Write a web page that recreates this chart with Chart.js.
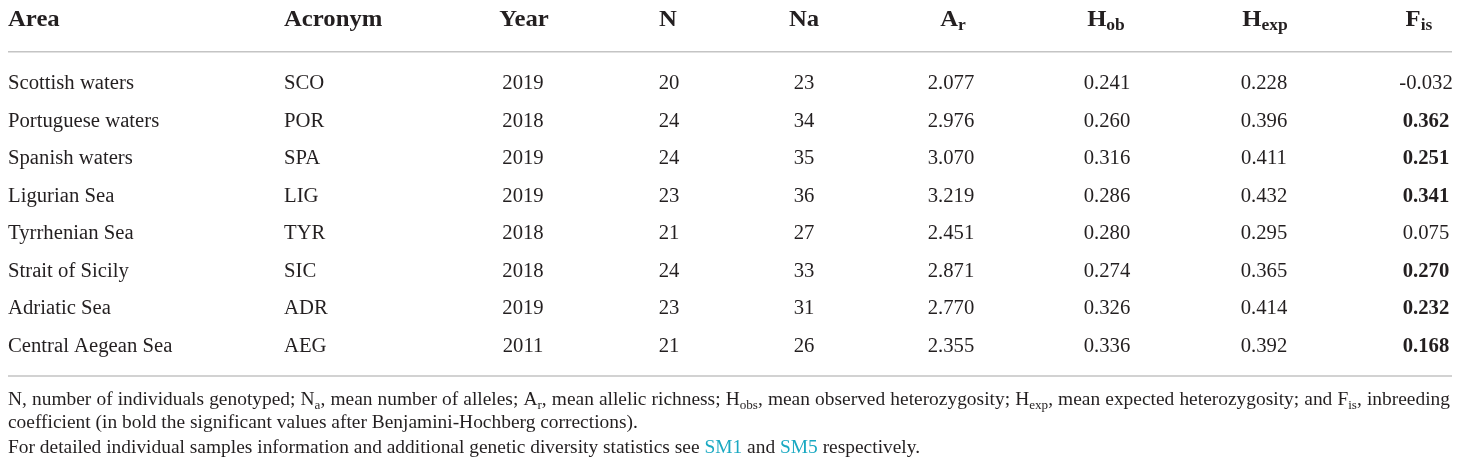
<!DOCTYPE html>
<html><head><meta charset="utf-8">
<script src="https://cdn.jsdelivr.net/npm/chart.js@4.4.1/dist/chart.umd.min.js"></script>
<style>html,body{margin:0;padding:0;background:#fff;}canvas{display:block;}</style>
</head><body>
<canvas id="c" width="1460" height="467"></canvas>
<script>
// ---- data ----
const areas = ["Scottish waters","Portuguese waters","Spanish waters","Ligurian Sea","Tyrrhenian Sea","Strait of Sicily","Adriatic Sea","Central Aegean Sea"];
const acronyms = ["SCO","POR","SPA","LIG","TYR","SIC","ADR","AEG"];
const years = [2019,2018,2019,2019,2018,2018,2019,2011];
const nInd = [20,24,24,23,21,24,23,21];
const nAlleles = [23,34,35,36,27,33,31,26];
const allelicRichness = [2.077,2.976,3.070,3.219,2.451,2.871,2.770,2.355];
const hObs = [0.241,0.260,0.316,0.286,0.280,0.274,0.326,0.336];
const hExp = [0.228,0.396,0.411,0.432,0.295,0.365,0.414,0.392];
const fis = [-0.032,0.362,0.251,0.341,0.075,0.270,0.232,0.168];
const fisSignificant = [false,true,true,true,false,true,true,true];
const headers = ["Area","Acronym","Year","N","Na","A_{r}","H_{ob}","H_{exp}","F_{is}"];
const footnotes = [
  "N, number of individuals genotyped; N_{a}, mean number of alleles; A_{r}, mean allelic richness; H_{obs}, mean observed heterozygosity; H_{exp}, mean expected heterozygosity; and F_{is}, inbreeding",
  "coefficient (in bold the significant values after Benjamini-Hochberg corrections).",
  "For detailed individual samples information and additional genetic diversity statistics see [SM1] and [SM5] respectively."
];

// ---- layout / style ----
const FONT = '"Liberation Serif", "Times New Roman", serif';
const TEXT = '#231f20';
const LINK = '#1aa9c2';
const RULE = '#c4c4c4';
const columns = [
  {hx: 8,    x: 8,    align: 'left'},
  {hx: 284,  x: 284,  align: 'left'},
  {hx: 524,  x: 523,  align: 'center'},
  {hx: 668,  x: 669,  align: 'center'},
  {hx: 804,  x: 804,  align: 'center'},
  {hx: 953,  x: 951,  align: 'center'},
  {hx: 1106, x: 1107, align: 'center'},
  {hx: 1265, x: 1264, align: 'center'},
  {hx: 1419, x: 1426, align: 'center'}
];

function cellTexts(i) {
  return [areas[i], acronyms[i], String(years[i]), String(nInd[i]), String(nAlleles[i]),
    allelicRichness[i].toFixed(3), hObs[i].toFixed(3), hExp[i].toFixed(3), fis[i].toFixed(3)];
}

// parse "A_{r}" and "[SM1]" into segments
function parse(str) {
  const segs = [];
  const re = /_\{([^}]*)\}|\[([^\]]*)\]|([^_\[]+)/g;
  let m;
  while ((m = re.exec(str))) {
    if (m[1] !== undefined) segs.push({t: m[1], sub: true});
    else if (m[2] !== undefined) segs.push({t: m[2], color: LINK});
    else segs.push({t: m[3]});
  }
  return segs;
}

function fontOf(s, st) {
  return `${st.bold ? 'bold ' : ''}${s.sub ? st.sub : st.size}px ${FONT}`;
}
function measure(ctx, segs, st) {
  let w = 0;
  const k = st.stretch || 1;
  segs.forEach(s => { ctx.font = fontOf(s, st); s.w = ctx.measureText(s.t).width * k; w += s.w; });
  return w;
}
function drawSegs(ctx, segs, x, y, st) {
  let cx = x;
  const k = st.stretch || 1;
  segs.forEach(s => {
    ctx.font = fontOf(s, st);
    ctx.fillStyle = s.color || TEXT;
    ctx.save();
    ctx.translate(cx, y + (s.sub ? st.shift : 0));
    ctx.scale(k, 1);
    ctx.fillText(s.t, 0, 0);
    ctx.restore();
    cx += s.w;
  });
}
function drawRich(ctx, str, x, y, align, st) {
  const segs = parse(str);
  const w = measure(ctx, segs, st);
  const sx = align === 'center' ? x - w / 2 : align === 'right' ? x - w : x;
  drawSegs(ctx, segs, sx, y, st);
}
function drawJustified(ctx, str, x0, x1, y, st) {
  const words = str.split(' ').map(wd => parse(wd));
  const widths = words.map(wd => measure(ctx, wd, st));
  const total = widths.reduce((a, b) => a + b, 0);
  const gap = (x1 - x0 - total) / (words.length - 1);
  let cx = x0;
  words.forEach((wd, k) => { drawSegs(ctx, wd, cx, y, st); cx += widths[k] + gap; });
}

const tablePlugin = {
  id: 'table',
  afterDraw(chart) {
    const ctx = chart.ctx;
    const ys = chart.scales.y;
    const area = chart.chartArea;
    ctx.save();
    ctx.textBaseline = 'alphabetic';
    ctx.textAlign = 'left';
    const head = {size: 24, sub: 17, shift: 4, bold: true, stretch: 1.03};
    const body = {size: 20.5, sub: 14, shift: 4, bold: false, stretch: 1.01};
    const note = {size: 18.5, sub: 12.5, shift: 4, bold: false, stretch: 1.05};
    // header
    const hy = area.top - 38.25;
    headers.forEach((h, c) => drawRich(ctx, h, columns[c].hx, hy, columns[c].align, head));
    // rules
    ctx.strokeStyle = RULE; ctx.lineWidth = 1.5;
    ctx.beginPath();
    ctx.moveTo(8, area.top - 12.5); ctx.lineTo(1452, area.top - 12.5);
    ctx.moveTo(8, area.bottom + 11.75); ctx.lineTo(1452, area.bottom + 11.75);
    ctx.stroke();
    // body rows
    areas.forEach((a, i) => {
      const y = ys.getPixelForValue(i) + 6;
      cellTexts(i).forEach((t, c) => {
        const st = (c === 8 && fisSignificant[i]) ? {...body, bold: true} : body;
        drawRich(ctx, t, columns[c].x, y, columns[c].align, st);
      });
    });
    // footnotes
    drawJustified(ctx, footnotes[0], 8, 1450, area.bottom + 40.75, note);
    drawRich(ctx, footnotes[1], 8, area.bottom + 63.75, 'left', note);
    drawRich(ctx, footnotes[2], 8, area.bottom + 88.75, 'left', note);
    ctx.restore();
  }
};

new Chart(document.getElementById('c'), {
  type: 'scatter',
  data: { datasets: [] },
  options: {
    responsive: false,
    animation: false,
    layout: { padding: { top: 64.25, bottom: 102.75, left: 0, right: 0 } },
    plugins: { legend: { display: false }, tooltip: { enabled: false } },
    scales: {
      x: { type: 'linear', min: 0, max: 1460, display: false },
      y: { type: 'category', labels: areas, offset: true, display: false }
    }
  },
  plugins: [tablePlugin]
});
</script>
</body></html>
